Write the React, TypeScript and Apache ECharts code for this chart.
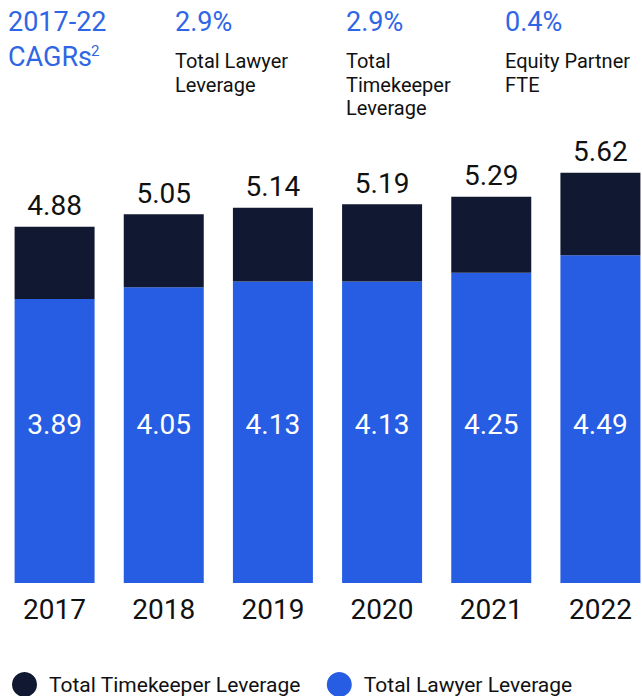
import React, { useEffect, useRef } from "react";
import * as echarts from "echarts";

const years = ["2017", "2018", "2019", "2020", "2021", "2022"];
const timekeeperLeverage = [4.88, 5.05, 5.14, 5.19, 5.29, 5.62];
const lawyerLeverage = [3.89, 4.05, 4.13, 4.13, 4.25, 4.49];
const cagrValues = ["2.9%", "2.9%", "0.4%"];
const cagrLabels = [["Total Lawyer", "Leverage"], ["Total", "Timekeeper", "Leverage"], ["Equity Partner", "FTE"]];

const BLUE = "#265DE3";
const DARK = "#111831";
const BLUE_TEXT = "#2F66E6";
const FONT = "Roboto";

export default function App() {
  const ref = useRef<HTMLDivElement>(null);
  useEffect(() => {
    const chart = echarts.init(ref.current!, null, { renderer: "svg" });
    const gap = timekeeperLeverage.map((t, i) => +(t - lawyerLeverage[i]).toFixed(2));
    const cagrX = [175, 346, 505];
    const graphics: any[] = [
      { type: "text", x: 8, y: 22, style: { text: "2017-22", fill: BLUE_TEXT, font: `27px ${FONT}`, textVerticalAlign: "middle" } },
      { type: "text", x: 8, y: 57, style: { text: "CAGRs", fill: BLUE_TEXT, font: `27px ${FONT}`, textVerticalAlign: "middle" } },
      { type: "text", x: 91, y: 51, style: { text: "2", fill: BLUE_TEXT, font: `15px ${FONT}`, textVerticalAlign: "middle" } },
    ];
    cagrValues.forEach((v, i) => {
      graphics.push({ type: "text", x: cagrX[i], y: 22, style: { text: v, fill: BLUE_TEXT, font: `27px ${FONT}`, textVerticalAlign: "middle" } });
      cagrLabels[i].forEach((line, j) => {
        graphics.push({ type: "text", x: cagrX[i], y: 61 + j * 23.5, style: { text: line, fill: "#111", font: `20px ${FONT}`, textVerticalAlign: "middle" } });
      });
    });
    chart.setOption({
      animation: false,
      textStyle: { fontFamily: FONT },
      graphic: graphics,
      legend: {
        data: ["Total Timekeeper Leverage", "Total Lawyer Leverage"],
        left: 12,
        top: 672,
        padding: 0,
        icon: "circle",
        itemWidth: 25,
        itemHeight: 25,
        itemGap: 26,
        textStyle: { fontSize: 21, color: "#111", padding: [0, 0, 0, 7], fontFamily: FONT },
      },
      grid: { left: 0, right: 0, top: 145, bottom: 113 },
      xAxis: {
        type: "category",
        data: years,
        axisLine: { show: false },
        axisTick: { show: false },
        axisLabel: { fontSize: 28, lineHeight: 28, color: "#111", margin: 12, fontFamily: FONT },
      },
      yAxis: { type: "value", min: 0, max: 6, show: false, splitLine: { show: false } },
      series: [
        {
          name: "Total Lawyer Leverage",
          type: "bar",
          stack: "s",
          barWidth: 80,
          data: lawyerLeverage,
          itemStyle: { color: BLUE },
          label: {
            show: true,
            position: "insideBottom",
            distance: 145,
            color: "#fff",
            fontSize: 28,
            lineHeight: 28,
            fontFamily: FONT,
            formatter: (p: any) => lawyerLeverage[p.dataIndex].toFixed(2),
          },
        },
        {
          name: "Total Timekeeper Leverage",
          type: "bar",
          stack: "s",
          barWidth: 80,
          data: gap,
          itemStyle: { color: DARK },
          label: {
            show: true,
            position: "top",
            distance: 7,
            color: "#111",
            fontSize: 28,
            lineHeight: 28,
            fontFamily: FONT,
            formatter: (p: any) => timekeeperLeverage[p.dataIndex].toFixed(2),
          },
        },
      ],
    });
    return () => chart.dispose();
  }, []);
  return (
    <div style={{ position: "absolute", left: 0, top: 0, width: 642, height: 696, overflow: "hidden" }}>
      <div ref={ref} style={{ width: 655, height: 696 }} />
    </div>
  );
}
